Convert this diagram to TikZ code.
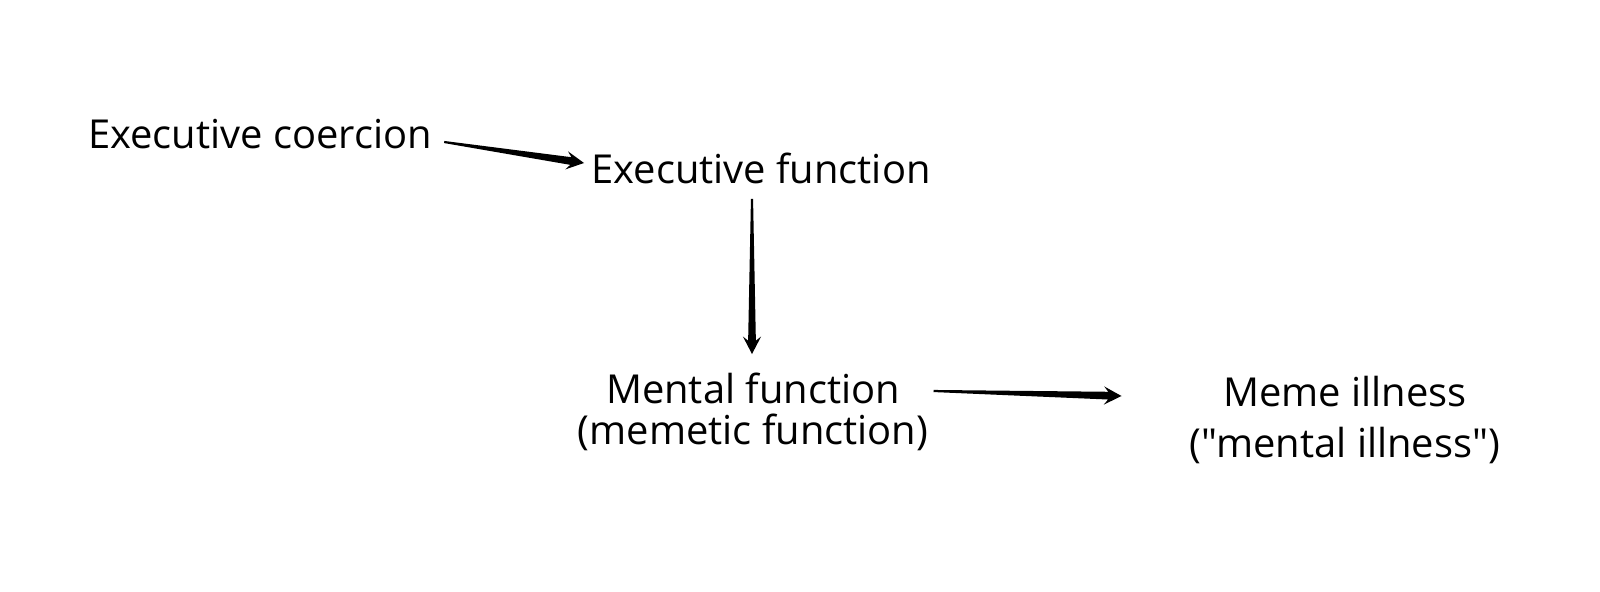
\documentclass[tikz,border=0pt]{standalone}
\usepackage{fontspec}
\setmainfont{Open Sans}[Ligatures=TeXOff]
\usetikzlibrary{positioning,calc}
% tapered arrow: thin at the start, wide at the head
\newcommand\wedgearrow[2]{%
\fill let \p1=(#1),\p2=(#2),\n1={atan2(\y2-\y1,\x2-\x1)} in
($(\p1)+(\n1+90:.6pt)$) -- ($(\p2)+(\n1+180:7.6pt)+(\n1+90:2.2pt)$) -- ($(\p2)+(\n1+180:10pt)+(\n1+90:5.2pt)$) -- (\p2)
-- ($(\p2)+(\n1+180:10pt)+(\n1-90:5.2pt)$) -- ($(\p2)+(\n1+180:7.6pt)+(\n1-90:2.2pt)$) -- ($(\p1)+(\n1-90:.6pt)$) -- cycle;}

\begin{document}
\begin{tikzpicture}[label/.style={font=\fontsize{22.7}{23}\selectfont,align=center,inner sep=0pt}]
\useasboundingbox (0,0) rectangle (32,11.82);
\node[label] (coercion) at (5.2,9.14) {Executive coercion};
\node[label] (execfn) at (15.22,8.46) {Executive function};
\node[label] (mental) at (15.06,3.58) {Mental function\\(memetic function)};
\node[label,font=\fontsize{22.7}{28.6}\selectfont] (meme) at (26.9,3.42) {Meme illness\\("mental illness")};
\wedgearrow{$(coercion.east)+(.24,-.16)$}{$(execfn.west)+(-.14,.1)$}
\wedgearrow{$(execfn.south)+(-.18,-.3)$}{$(mental.north)+(-.02,.38)$}
\wedgearrow{$(mental.east)+(.1,.42)$}{$(meme.west)+(-1.36,.48)$}
\end{tikzpicture}
\end{document}
